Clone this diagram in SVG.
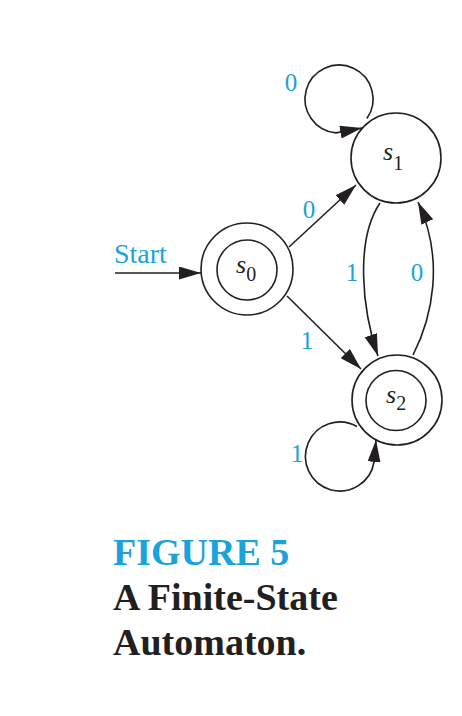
<svg xmlns="http://www.w3.org/2000/svg" width="462" height="716" viewBox="0 0 462 716">
<style>
.st{fill:none;stroke:#231f20;stroke-width:1.6}
.ln{fill:none;stroke:#231f20;stroke-width:1.6}
.lb{font-family:"Liberation Serif",serif;font-size:25px;fill:#1aa3db;text-anchor:middle}
.nm{font-family:"Liberation Serif",serif;font-size:26px;font-style:italic;fill:#231f20}
.sb{font-family:"Liberation Serif",serif;font-size:20px;font-style:normal}
.cap{font-family:"Liberation Serif",serif;font-size:38px;font-weight:bold;fill:#231f20}
</style>
<defs>
<marker id="ah" markerUnits="userSpaceOnUse" markerWidth="24" markerHeight="14" refX="22" refY="6.5" orient="auto">
<path d="M0,0 L22,6.5 L0,13 z" fill="#231f20"/>
</marker>
</defs>
<rect width="462" height="716" fill="#fff"/>
<g id="connectors">
<path class="ln" d="M115,273 L201,273" marker-end="url(#ah)"/>
<path class="ln" d="M289,247 L356,185" marker-end="url(#ah)"/>
<path class="ln" d="M287,296 L361,369" marker-end="url(#ah)"/>
<path class="ln" d="M380,203 C355,240 362,310 378,356" marker-end="url(#ah)"/>
<path class="ln" d="M413,355 C432,318 445,260 418,202" marker-end="url(#ah)"/>
<path class="ln" d="M366.9,118.5 A34,34 0 1 0 336,132.9 L362,128" marker-end="url(#ah)"/>
<path class="ln" d="M357,426.5 A34.5,34.5 0 1 0 374,462 L376,440" marker-end="url(#ah)"/>
</g>
<g id="labels">
<text class="lb" x="114" y="263" style="text-anchor:start;font-size:28px">Start</text>
<text class="lb" x="291" y="91">0</text>
<text class="lb" x="309" y="218">0</text>
<text class="lb" x="307" y="349">1</text>
<text class="lb" x="352" y="281">1</text>
<text class="lb" x="417" y="281">0</text>
<text class="lb" x="297" y="462">1</text>
</g>
<g id="s0">
<circle class="st" cx="247" cy="269" r="46"/>
<circle class="st" cx="247" cy="270" r="30"/>
<text class="nm" x="236" y="273">s<tspan class="sb" dy="8">0</tspan></text>
</g>
<g id="s1">
<circle class="st" cx="396" cy="158" r="45"/>
<text class="nm" x="383" y="160">s<tspan class="sb" dy="10">1</tspan></text>
</g>
<g id="s2">
<circle class="st" cx="397" cy="400" r="45"/>
<circle class="st" cx="396" cy="400.5" r="30"/>
<text class="nm" x="386" y="403">s<tspan class="sb" dy="7">2</tspan></text>
</g>
<g id="caption">
<text class="cap" x="113" y="565" fill="#1aa3db" style="fill:#1aa3db">FIGURE 5</text>
<text class="cap" x="113" y="610">A Finite-State</text>
<text class="cap" x="113" y="655">Automaton.</text>
</g>
</svg>
